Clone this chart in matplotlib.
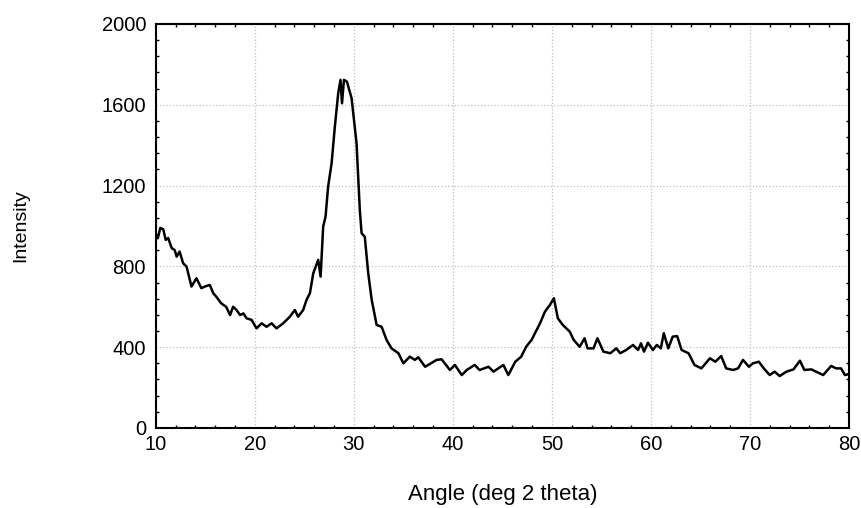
import numpy as np
import matplotlib
matplotlib.use("Agg")
import matplotlib.pyplot as plt
from matplotlib.ticker import MultipleLocator

# XRD pattern (angle in deg 2 theta, intensity)
angle = [10.0, 10.2, 10.45, 10.74, 11.0, 11.25, 11.6, 11.9, 12.1, 12.4, 12.76, 13.1,
         13.6, 14.1, 14.6, 14.95, 15.45, 15.8, 16.1, 16.6, 17.1, 17.5, 17.8, 18.15,
         18.5, 18.85, 19.16, 19.67, 20.17, 20.68, 21.18, 21.69, 22.19, 22.86, 23.54,
         24.04, 24.37, 24.88, 25.22, 25.56, 25.9, 26.4, 26.64, 26.9, 27.14, 27.4,
         27.75, 28.08, 28.42, 28.65, 28.8, 29.0, 29.3, 29.77, 30.27, 30.6, 30.78,
         31.1, 31.45, 31.8, 32.3, 32.8, 33.3, 33.8, 34.5, 35.0, 35.65, 36.16, 36.5,
         37.2, 38.35, 38.86, 39.7, 40.2, 40.9, 41.4, 42.2, 42.7, 43.6, 44.1, 45.1,
         45.6, 46.3, 46.9, 47.4, 47.95, 48.8, 49.3, 49.8, 50.2, 50.6, 51.1, 51.8,
         52.2, 52.8, 53.3, 53.6, 54.2, 54.6, 55.2, 55.9, 56.5, 56.9, 57.5, 58.2,
         58.7, 59.0, 59.3, 59.7, 60.2, 60.6, 61.0, 61.3, 61.75, 62.2, 62.65, 63.1,
         63.8, 64.4, 65.1, 65.96, 66.5, 67.1, 67.6, 68.3, 68.8, 69.3, 69.9, 70.3,
         70.9, 71.4, 72.0, 72.5, 73.0, 73.7, 74.4, 75.05, 75.5, 76.2, 76.9, 77.4,
         78.2, 78.7, 79.2, 79.6, 80.0]
intensity = [960, 939, 990, 984, 931, 940, 890, 881, 848, 873, 815, 799,
             700, 741, 692, 700, 708, 667, 650, 617, 600, 559, 600, 584,
             559, 567, 543, 535, 493, 518, 501, 518, 493, 518, 551,
             584, 551, 584, 634, 667, 766, 832, 749, 997, 1046, 1195,
             1310, 1492, 1657, 1723, 1607, 1723, 1714, 1632, 1409, 1079, 964,
             947, 766, 634, 510, 501, 436, 394, 370, 320, 353, 337, 350,
             303, 337, 340, 287, 312, 262, 287, 312, 287, 303, 279, 312,
             262, 328, 353, 402, 436, 518, 576, 609, 642, 543, 510, 477,
             436, 402, 444, 394, 394, 444, 378, 370, 394, 370, 386, 411,
             386, 419, 378, 422, 386, 411, 394, 469, 394, 452, 455, 386,
             370, 312, 295, 345, 328, 356, 295, 287, 295, 337, 303, 320,
             328, 295, 262, 279, 257, 279, 290, 333, 287, 290, 274, 262,
             307, 295, 295, 262, 267]

x_ticks = [10, 20, 30, 40, 50, 60, 70, 80]
y_ticks = [0, 400, 800, 1200, 1600, 2000]

plt.rcParams['font.family'] = ['Liberation Sans', 'DejaVu Sans']

fig = plt.figure(figsize=(8.61, 5.08), dpi=100)
ax = fig.add_axes([0.181, 0.1575, 0.805, 0.7955])

ax.plot(angle, intensity, color="black", linewidth=1.8)

ax.set_xlim(10, 80)
ax.set_ylim(0, 2000)
ax.set_xticks(x_ticks)
ax.set_yticks(y_ticks)
ax.xaxis.set_minor_locator(MultipleLocator(2))
ax.yaxis.set_minor_locator(MultipleLocator(80))
ax.tick_params(which="both", direction="in", top=True, right=True,
               labelsize=14.5, color="black")
ax.tick_params(which="major", length=0)
ax.tick_params(axis="x", which="major", pad=5)
ax.tick_params(axis="y", which="major", pad=7)
ax.tick_params(which="minor", length=2.5, width=1)
ax.grid(True, which="major", color="#c0c0c0", linestyle=":", linewidth=0.9)

for s in ax.spines.values():
    s.set_linewidth(1.5)

ax.set_xlabel("Angle (deg 2 theta)", fontsize=16, labelpad=22)
ax.set_ylabel("Intensity", fontsize=14, labelpad=52)

fig.savefig("out.png", dpi=100)
